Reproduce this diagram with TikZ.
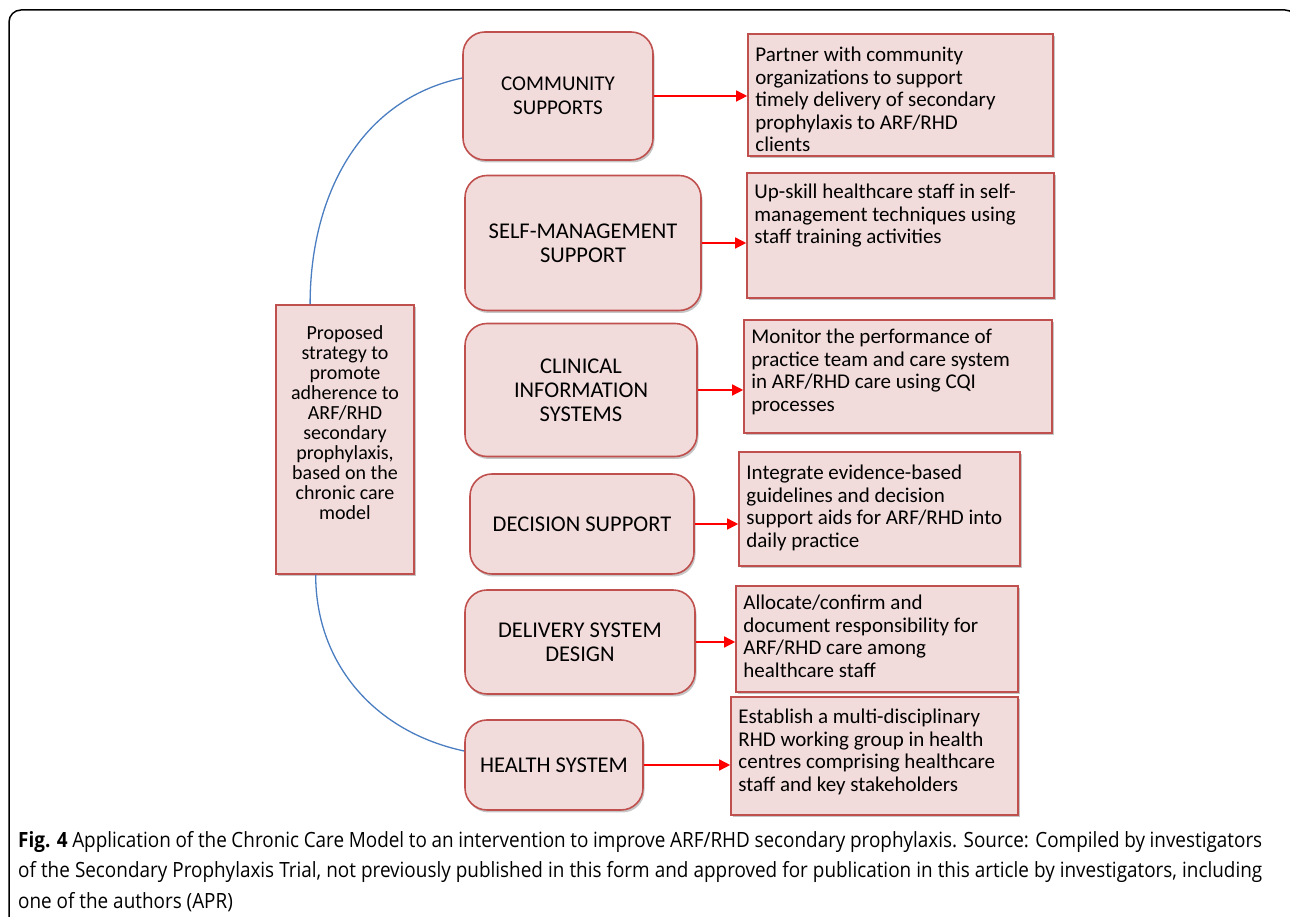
\documentclass[tikz,border=0pt]{standalone}
\usepackage{fontspec}
\setmainfont{Carlito}
\newfontfamily\capfont[FakeStretch=0.9]{Open Sans}
\usetikzlibrary{arrows.meta,shadows,calc,positioning}

\definecolor{boxfill}{RGB}{242,220,219}
\definecolor{boxline}{RGB}{192,80,77}
\definecolor{linkblue}{RGB}{74,126,193}

\tikzset{
  shade/.style={drop shadow={shadow xshift=1.5pt, shadow yshift=-2.5pt, opacity=0.45}},
  element/.style={draw=boxline, fill=boxfill, line width=1.6pt, rounded corners=22pt,
    shade, align=center, font=\fontsize{22.5}{24}\selectfont},
  action/.style={draw=boxline, fill=boxfill, line width=1.6pt, shade},
  actiontext/.style={anchor=north west, align=left, inner sep=0pt,
    font=\fontsize{21}{22.5}\selectfont},
  strategy/.style={draw=boxline, fill=boxfill, line width=1.6pt, shade,
    align=center, font=\fontsize{20}{20}\selectfont},
  link/.style={draw=red, line width=1.4pt, -{Triangle[length=11pt,width=11pt]}},
  bow/.style={draw=linkblue, line width=1.3pt}
}

\begin{document}
\begin{tikzpicture}[x=1pt, y=1pt]
\useasboundingbox (0,0) rectangle (1290,917);

% outer frame
\draw[line width=1.5pt, rounded corners=12pt] (9,-5) -- (9,907) -- (1297,907) -- (1297,-5);

% central strategy
\node[strategy, minimum width=138pt, minimum height=269pt] (c) at (345,477.5)
  {Proposed\\strategy to\\promote\\adherence to\\ARF/RHD\\secondary\\prophylaxis,\\based on the\\chronic care\\model\\[14pt]};

% chronic care model elements
\node[element, minimum width=190pt, minimum height=128pt, font=\fontsize{21}{24}\selectfont] (l1) at (558,821) {COMMUNITY\\SUPPORTS};
\node[element, minimum width=236pt, minimum height=135pt] (l2) at (583,674) {SELF-MANAGEMENT\\SUPPORT};
\node[element, minimum width=232pt, minimum height=133pt] (l3) at (581,527) {CLINICAL\\INFORMATION\\SYSTEMS};
\node[element, minimum width=224pt, minimum height=100pt] (l4) at (582,393) {DECISION SUPPORT};
\node[element, minimum width=230pt, minimum height=104pt] (l5) at (580,275) {DELIVERY SYSTEM\\DESIGN};
\node[element, minimum width=178pt, minimum height=90pt] (l6) at (554,152) {HEALTH SYSTEM};

% actions
\node[action, minimum width=305pt, minimum height=122pt] (r1) at (900.5,822) {};
\node[action, minimum width=307pt, minimum height=125pt] (r2) at (900.5,681.5) {};
\node[action, minimum width=308pt, minimum height=113pt] (r3) at (898,540.5) {};
\node[action, minimum width=281pt, minimum height=114pt] (r4) at (879.5,408) {};
\node[action, minimum width=282pt, minimum height=106pt] (r5) at (877,278) {};
\node[action, minimum width=287pt, minimum height=118pt] (r6) at (874.5,161) {};

\node[actiontext] (t1) at ([shift={(8,-14)}]r1.north west)
  {Partner with community\\organizations to support\\timely delivery of secondary\\prophylaxis to ARF/RHD\\clients};
\node[actiontext] (t2) at ([shift={(8,-12)}]r2.north west)
  {Up-skill healthcare staff in self-\\management techniques using\\staff training activities};
\node[actiontext] (t3) at ([shift={(8,-10)}]r3.north west)
  {Monitor the performance of\\practice team and care system\\in ARF/RHD care using CQI\\processes};
\node[actiontext] (t4) at ([shift={(8,-14)}]r4.north west)
  {Integrate evidence-based\\guidelines and decision\\support aids for ARF/RHD into\\daily practice};
\node[actiontext] (t5) at ([shift={(8,-10)}]r5.north west)
  {Allocate/confirm and\\document responsibility for\\ARF/RHD care among\\healthcare staff};
\node[actiontext] (t6) at ([shift={(8,-13)}]r6.north west)
  {Establish a multi-disciplinary\\RHD working group in health\\centres comprising healthcare\\staff and key stakeholders};

% arrows
\foreach \i in {1,...,6}
  \draw[link] (l\i.east) -- (l\i.east -| r\i.west);

% blue bows
\draw[bow] ($(c.north west)!0.25!(c.north east)$) to[out=90, in=192] ([yshift=18pt]l1.west);
\draw[bow] ($(c.south west)!0.29!(c.south east)$) to[out=-90, in=168] ([yshift=14pt]l6.west);

% caption
\node[anchor=north west, inner sep=0pt, text width=1244pt, align=justify,
  font=\capfont\fontsize{21}{30.5}\selectfont] (cap) at (18,86)
  {\textbf{Fig. 4} Application of the Chronic Care Model to an intervention to improve ARF/RHD secondary prophylaxis. Source: Compiled by investigators\linebreak
  of the Secondary Prophylaxis Trial, not previously published in this form and approved for publication in this article by investigators, including\linebreak
  one of the authors (APR)};
\end{tikzpicture}
\end{document}
